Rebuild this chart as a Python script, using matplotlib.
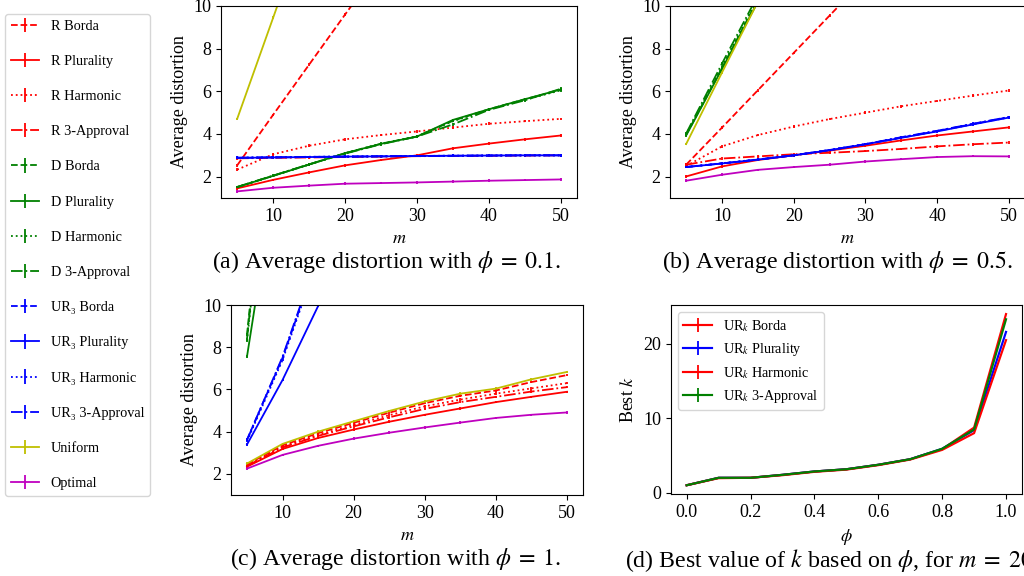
import matplotlib
matplotlib.use("Agg")
import matplotlib.pyplot as plt

plt.rcParams['font.family'] = ['Liberation Serif', 'DejaVu Serif']
plt.rcParams['mathtext.fontset'] = 'stix'

# ---------------- data ----------------
M = [5, 10, 15, 20, 25, 30, 35, 40, 45, 50]
PHI = [0.0, 0.1, 0.2, 0.3, 0.4, 0.5, 0.6, 0.7, 0.8, 0.9, 1.0]

LABELS = ["R Borda", "R Plurality", "R Harmonic", "R 3-Approval",
          "D Borda", "D Plurality", "D Harmonic", "D 3-Approval",
          "UR₃ Borda", "UR₃ Plurality", "UR₃ Harmonic", "UR₃ 3-Approval",
          "Uniform", "Optimal"]

# (a) phi = 0.1
A_R_BORDA = [2.53, 4.9, 7.25, 9.6, 11.9, 14.3, 16.6, 19.0, 21.3, 23.7]
A_R_PLUR = [1.45, 1.85, 2.2, 2.53, 2.78, 3.0, 3.33, 3.55, 3.75, 3.93]
A_R_HARM = [2.33, 3.05, 3.45, 3.75, 3.95, 4.12, 4.3, 4.48, 4.6, 4.71]
A_R_3APP = [2.86, 2.88, 2.9, 2.92, 2.94, 2.96, 2.97, 2.98, 2.99, 3.0]
A_D_BORDA = [1.51, 2.04, 2.57, 3.1, 3.54, 3.88, 4.62, 5.16, 5.63, 6.07]
A_D_PLUR = [1.51, 2.04, 2.57, 3.1, 3.54, 3.88, 4.66, 5.16, 5.63, 6.09]
A_D_HARM = [1.51, 2.04, 2.57, 3.1, 3.55, 3.89, 4.6, 5.15, 5.6, 6.05]
A_D_3APP = [1.52, 2.05, 2.58, 3.08, 3.52, 3.88, 4.45, 5.13, 5.58, 6.12]
A_U_BORDA = [2.88, 2.9, 2.92, 2.94, 2.95, 2.97, 2.98, 2.99, 3.0, 3.0]
A_U_PLUR = [2.88, 2.9, 2.92, 2.94, 2.95, 2.97, 2.98, 2.99, 3.0, 3.0]
A_U_HARM = [2.89, 2.91, 2.93, 2.94, 2.96, 2.97, 2.98, 2.99, 3.0, 3.0]
A_U_3APP = [2.89, 2.91, 2.93, 2.94, 2.96, 2.97, 2.98, 2.99, 3.0, 3.0]
A_UNIFORM = [4.71, 9.45, 14.2, 18.9, 23.6, 28.4, 33.1, 37.8, 42.5, 47.2]
A_OPTIMAL = [1.31, 1.48, 1.58, 1.67, 1.7, 1.73, 1.77, 1.81, 1.84, 1.87]

# (b) phi = 0.5
B_R_BORDA = [2.56, 4.3, 6.05, 7.8, 9.55, 11.3, 13.0, 14.8, 16.5, 18.3]
B_R_PLUR = [2.01, 2.48, 2.78, 3.0, 3.22, 3.45, 3.7, 3.93, 4.12, 4.31]
B_R_HARM = [2.5, 3.42, 3.95, 4.35, 4.7, 5.0, 5.3, 5.55, 5.8, 6.04]
B_R_3APP = [2.56, 2.85, 2.95, 3.05, 3.12, 3.2, 3.3, 3.42, 3.52, 3.6]
B_D_BORDA = [3.96, 7.1, 10.3, 13.5, 16.7, 19.9, 23.1, 26.3, 29.5, 32.7]
B_D_PLUR = [3.93, 7.05, 10.2, 13.4, 16.6, 19.8, 23.0, 26.2, 29.4, 32.6]
B_D_HARM = [3.98, 7.15, 10.4, 13.6, 16.8, 20.0, 23.2, 26.4, 29.6, 32.8]
B_D_3APP = [4.02, 7.3, 10.5, 13.7, 16.9, 20.1, 23.3, 26.5, 29.7, 32.9]
B_U_BORDA = [2.45, 2.62, 2.8, 3.0, 3.25, 3.52, 3.83, 4.14, 4.47, 4.79]
B_U_PLUR = [2.45, 2.62, 2.8, 3.0, 3.24, 3.52, 3.82, 4.12, 4.45, 4.77]
B_U_HARM = [2.46, 2.63, 2.81, 3.0, 3.25, 3.53, 3.84, 4.14, 4.46, 4.78]
B_U_3APP = [2.45, 2.62, 2.8, 3.0, 3.25, 3.52, 3.85, 4.15, 4.48, 4.8]
B_UNIFORM = [3.53, 6.88, 10.2, 13.6, 16.9, 20.3, 23.6, 27.0, 30.3, 33.7]
B_OPTIMAL = [1.81, 2.09, 2.32, 2.45, 2.56, 2.71, 2.82, 2.92, 2.96, 2.95]

# (c) phi = 1
C_R_BORDA = [2.45, 3.35, 3.93, 4.42, 4.9, 5.35, 5.7, 5.95, 6.35, 6.68]
C_R_PLUR = [2.34, 3.18, 3.7, 4.1, 4.47, 4.8, 5.1, 5.4, 5.65, 5.89]
C_R_HARM = [2.4, 3.3, 3.85, 4.32, 4.78, 5.2, 5.52, 5.8, 6.05, 6.3]
C_R_3APP = [2.38, 3.25, 3.8, 4.25, 4.68, 5.08, 5.4, 5.65, 5.9, 6.11]
C_D_BORDA = [8.6, 25.0, 41.0, 57.0, 73.0, 89.0, 105.0, 121.0, 137.0, 153.0]
C_D_PLUR = [7.56, 18.3, 29.0, 40.0, 51.0, 62.0, 73.0, 84.0, 95.0, 106.0]
C_D_HARM = [8.3, 24.0, 40.0, 56.0, 72.0, 88.0, 104.0, 120.0, 136.0, 152.0]
C_D_3APP = [8.4, 24.5, 40.5, 56.5, 72.5, 88.5, 104.5, 120.5, 136.5, 152.5]
C_U_BORDA = [3.62, 7.5, 12.3, 17.3, 22.3, 27.3, 32.3, 37.3, 42.3, 47.3]
C_U_PLUR = [3.39, 6.45, 9.95, 13.4, 16.9, 20.4, 23.9, 27.4, 30.9, 34.4]
C_U_HARM = [3.55, 7.4, 12.2, 17.2, 22.2, 27.2, 32.2, 37.2, 42.2, 47.2]
C_U_3APP = [3.6, 7.55, 12.4, 17.4, 22.4, 27.4, 32.4, 37.4, 42.4, 47.4]
C_UNIFORM = [2.49, 3.42, 4.0, 4.49, 4.98, 5.43, 5.8, 6.04, 6.48, 6.83]
C_OPTIMAL = [2.25, 2.9, 3.33, 3.67, 3.95, 4.2, 4.43, 4.65, 4.8, 4.91]

# (d) best k vs phi (m = 20)
K_LABELS = ["UR$_k$ Borda", "UR$_k$ Plurality", "UR$_k$ Harmonic", "UR$_k$ 3-Approval"]
K_BORDA = [1.0, 2.0, 2.0, 2.4, 2.85, 3.15, 3.75, 4.5, 5.85, 8.75, 24.0]
K_PLUR = [1.0, 2.0, 2.0, 2.4, 2.85, 3.15, 3.75, 4.5, 5.9, 8.4, 21.6]
K_HARM = [1.0, 1.95, 2.0, 2.35, 2.8, 3.1, 3.7, 4.45, 5.75, 8.0, 20.5]
K_3APP = [1.0, 2.0, 2.0, 2.4, 2.85, 3.15, 3.75, 4.5, 5.9, 8.5, 23.3]

ERR = 0.06

# ---------------- styles ----------------
COLORS = ['r'] * 4 + ['g'] * 4 + ['b'] * 4 + ['y', 'm']
STYLES = ['--', '-', ':', '-.'] * 3 + ['-', '-']

PANELS = [
    [A_R_BORDA, A_R_PLUR, A_R_HARM, A_R_3APP, A_D_BORDA, A_D_PLUR, A_D_HARM, A_D_3APP,
     A_U_BORDA, A_U_PLUR, A_U_HARM, A_U_3APP, A_UNIFORM, A_OPTIMAL],
    [B_R_BORDA, B_R_PLUR, B_R_HARM, B_R_3APP, B_D_BORDA, B_D_PLUR, B_D_HARM, B_D_3APP,
     B_U_BORDA, B_U_PLUR, B_U_HARM, B_U_3APP, B_UNIFORM, B_OPTIMAL],
    [C_R_BORDA, C_R_PLUR, C_R_HARM, C_R_3APP, C_D_BORDA, C_D_PLUR, C_D_HARM, C_D_3APP,
     C_U_BORDA, C_U_PLUR, C_U_HARM, C_U_3APP, C_UNIFORM, C_OPTIMAL],
]

W, H = 1024, 576
fig = plt.figure(figsize=(W / 100, H / 100), dpi=100)


def box(l, t, r, b):
    return [l / W, 1 - b / H, (r - l) / W, (b - t) / H]


axes_pos = [box(221, 6, 577, 198), box(670, 6, 1025, 198), box(231, 305, 583, 495)]
LW = 1.3
FS = 13

handles = []
for pi, (pos, series) in enumerate(zip(axes_pos, PANELS)):
    ax = fig.add_axes(pos)
    for i, ys in enumerate(series):
        h = ax.errorbar(M, ys, yerr=ERR, color=COLORS[i], linestyle=STYLES[i],
                        linewidth=LW, elinewidth=LW, label=LABELS[i])
        if pi == 0:
            handles.append(h)
    ax.set_xlim(2.75, 52.25)
    ax.set_ylim(1, 10)
    ax.set_yticks([2, 4, 6, 8, 10])
    ax.set_xticks([10, 20, 30, 40, 50])
    ax.tick_params(labelsize=FS)
    ax.set_xlabel('$m$', fontsize=FS)
    ax.set_ylabel('Average distortion', fontsize=FS)

axd = fig.add_axes(box(670.7, 305, 1022, 494.3))
for ys, c, lab in zip([K_BORDA, K_PLUR, K_HARM, K_3APP], ['r', 'b', 'r', 'g'], K_LABELS):
    axd.errorbar(PHI, ys, yerr=ERR, color=c, linewidth=LW * 1.2, elinewidth=LW, label=lab)
axd.set_xticks([0.0, 0.2, 0.4, 0.6, 0.8, 1.0])
axd.set_yticks([0, 10, 20])
axd.tick_params(labelsize=FS)
axd.set_xlabel(r'$\phi$', fontsize=FS)
axd.set_ylabel('Best $k$', fontsize=FS)
axd.legend(loc='upper left', fontsize=10.2)

fig.legend(handles, LABELS, loc='upper left', bbox_to_anchor=(5 / W, 1 - 14 / H),
           fontsize=10.3, labelspacing=1.55, borderaxespad=0)

CFS = 17.2
fig.text(387 / W, 1 - 262 / H, r'(a) Average distortion with $\phi\;=\;0.1$.', ha='center', va='center', fontsize=CFS)
fig.text(837 / W, 1 - 262 / H, r'(b) Average distortion with $\phi\;=\;0.5$.', ha='center', va='center', fontsize=CFS)
fig.text(396 / W, 1 - 559 / H, r'(c) Average distortion with $\phi\;=\;1$.', ha='center', va='center', fontsize=CFS)
fig.text(625 / W, 1 - 560 / H, r'(d) Best value of $k$ based on $\phi$, for $m\;=\;20$.', ha='left', va='center', fontsize=CFS)

fig.savefig('out.png', dpi=100)
